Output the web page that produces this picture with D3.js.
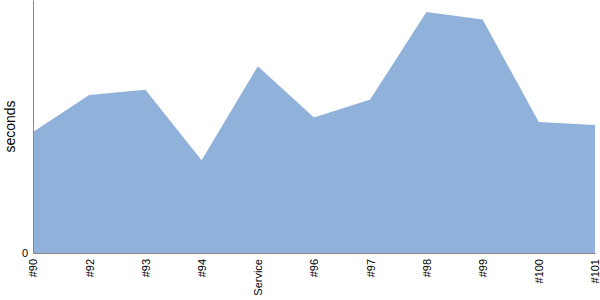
<!DOCTYPE html>
<meta charset="utf-8">
<html>
<head>
<title>Build times</title>
<style>
  body { margin: 0; font-family: 'Liberation Sans', Arial, sans-serif; }
  .axis path, .axis line { stroke: #888; }
  .axis text { fill: #000; font-family: 'Liberation Sans', Arial, sans-serif; font-size: 11px; }
</style>
</head>
<body>
<div id="chart"></div>
<script src="https://d3js.org/d3.v7.min.js"></script>
<script>

var builds = ["#90", "#92", "#93", "#94", "Service", "#96", "#97", "#98", "#99", "#100", "#101"];
var seconds = [24.1, 31.5, 32.5, 18.5, 37.2, 27.0, 30.6, 48.0, 46.5, 26.1, 25.5];
var yTicks = [0];

var width = 600, height = 300;
var margin = {top: 0, right: 5, bottom: 47, left: 33};

var svg = d3.select("#chart").append("svg")
    .attr("width", width)
    .attr("height", height);

var g = svg.append("g")
    .attr("transform", "translate(" + margin.left + "," + margin.top + ")");

var w = width - margin.left - margin.right,
    h = height - margin.top - margin.bottom;

var x = d3.scalePoint().domain(builds).range([0, w]);
var y = d3.scaleLinear().domain([0, d3.max(seconds) * 1.05]).range([h, 0]);

var data = builds.map(function (b, i) { return {build: b, value: seconds[i]}; });

var area = d3.area()
    .x(function (d) { return x(d.build); })
    .y0(h)
    .y1(function (d) { return y(d.value); });

g.append("path")
    .datum(data)
    .attr("d", area)
    .style("fill", "#8fb1da");

// x axis
var xAxis = g.append("g")
    .attr("class", "axis")
    .attr("transform", "translate(0," + h + ")")
    .call(d3.axisBottom(x).tickSize(0).tickPadding(0));
xAxis.selectAll("text")
    .style("text-anchor", "end")
    .attr("dx", "-6px")
    .attr("dy", "0.35em")
    .attr("transform", "rotate(-90)");

// y axis
g.append("g")
    .attr("class", "axis")
    .call(d3.axisLeft(y).tickValues(yTicks).tickSize(0).tickPadding(5));

g.append("text")
    .attr("transform", "rotate(-90)")
    .attr("x", -h / 2)
    .attr("y", -18)
    .style("text-anchor", "middle")
    .style("font-size", "14px")
    .text("seconds");

</script>
</body>
</html>
